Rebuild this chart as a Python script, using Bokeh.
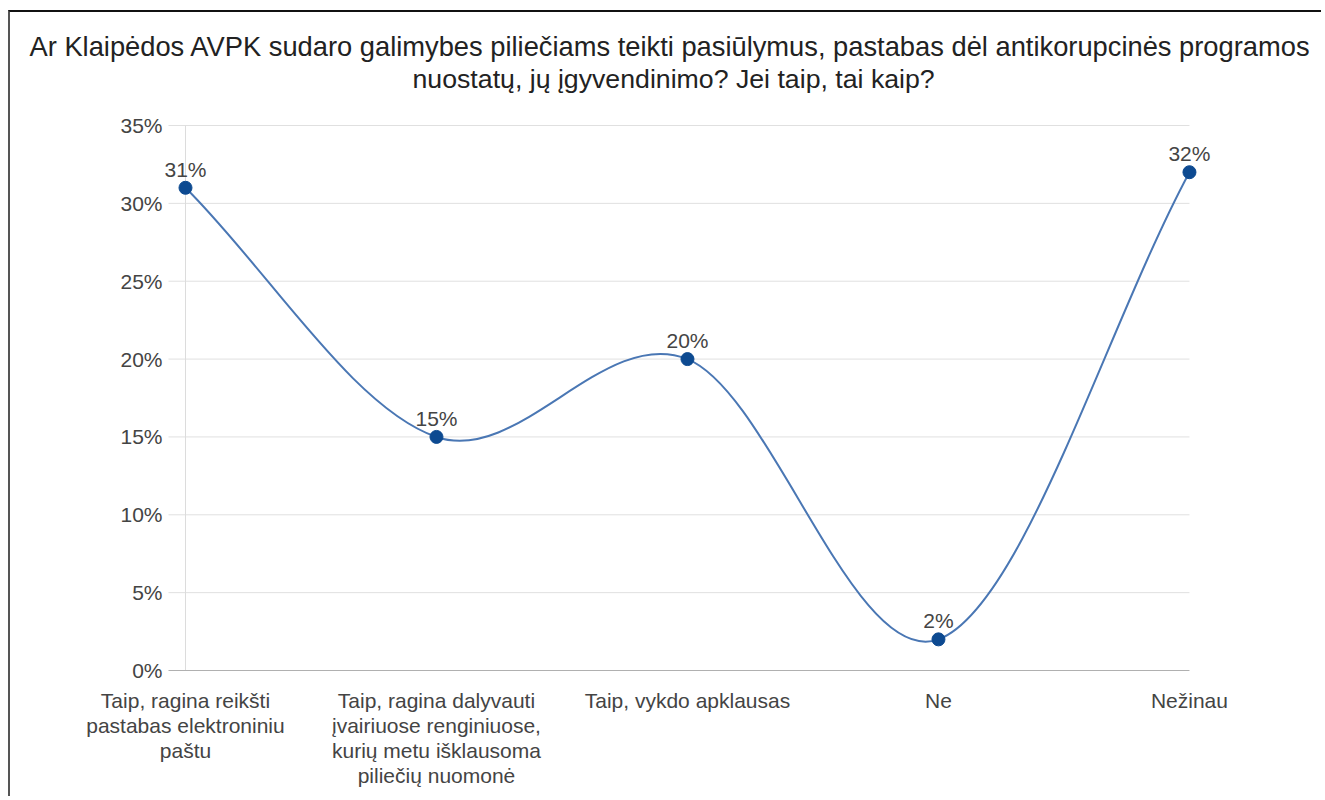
import numpy as np
from bokeh.plotting import figure
from bokeh.models import (Range1d, FixedTicker, ColumnDataSource, LabelSet,
                          PrintfTickFormatter, Title)
from bokeh.core.properties import value
from bokeh.embed import file_html
from bokeh.resources import INLINE

# ---------------- data ----------------
title_lines = [
    "Ar Klaipėdos AVPK sudaro galimybes piliečiams teikti pasiūlymus, pastabas dėl antikorupcinės programos",
    "nuostatų, jų įgyvendinimo? Jei taip, tai kaip?",
]
categories = [
    "Taip, ragina reikšti\npastabas elektroniniu\npaštu",
    "Taip, ragina dalyvauti\nįvairiuose renginiuose,\nkurių metu išklausoma\npiliečių nuomonė",
    "Taip, vykdo apklausas",
    "Ne",
    "Nežinau",
]
values = [31, 15, 20, 2, 32]
value_labels = ["31%", "15%", "20%", "2%", "32%"]
y_ticks = [0, 5, 10, 15, 20, 25, 30, 35]

FONT = "Liberation Sans"
LINE_COLOR = "#4a77b4"
DOT_COLOR = "#0d4a91"
TXT = "#444444"

xs = np.arange(len(values), dtype=float)
ys = np.array(values, dtype=float)

# smooth curve (Catmull-Rom tangents -> cubic Bezier control points)
m = np.empty_like(ys)
m[1:-1] = (ys[2:] - ys[:-2]) / 2.0
m[0] = ys[1] - ys[0]
m[-1] = ys[-1] - ys[-2]
bez = dict(
    x0=xs[:-1], y0=ys[:-1], x1=xs[1:], y1=ys[1:],
    cx0=xs[:-1] + 1 / 3, cy0=ys[:-1] + m[:-1] / 3,
    cx1=xs[1:] - 1 / 3, cy1=ys[1:] - m[1:] / 3,
)

X_LEFT = -0.0677
p = figure(width=1313, height=786, title=None,
           x_range=Range1d(-0.0876, 4.4424), y_range=Range1d(-0.642, 35.642),
           output_backend="svg", toolbar_location=None,
           min_border_left=153, min_border_right=23,
           min_border_top=103, min_border_bottom=118,
           outline_line_color=None, background_fill_color="white",
           border_fill_color="white")
p.styles = {"margin-top": "10px", "margin-left": "8px",
            "border-top": "2px solid #111111", "border-left": "2px solid #555555"}

p.xgrid.visible = False
p.ygrid.visible = False

# titles (added later = farther from the frame)
spacer = Title(text=" ", text_font_size="1px", standoff=19)
t2 = Title(text=title_lines[1], align="left", offset=249, standoff=0,
           text_font=FONT, text_font_size="26.7px", text_font_style="normal",
           text_color="#222222")
t1 = Title(text=title_lines[0], align="left", offset=-134, standoff=0,
           text_font=FONT, text_font_size="27.3px", text_font_style="normal",
           text_color="#222222")
p.add_layout(spacer, "above")
p.add_layout(t2, "above")
p.add_layout(t1, "above")

# gridlines
grid_y = [t for t in y_ticks if t != 0]
p.segment(x0=[X_LEFT] * len(grid_y), y0=grid_y, x1=[xs[-1]] * len(grid_y), y1=grid_y,
          line_color="#e0e0e0", line_width=1)
p.segment(x0=[xs[0]], y0=[y_ticks[0]], x1=[xs[0]], y1=[y_ticks[-1]],
          line_color="#dcdcdc", line_width=1)
p.segment(x0=[X_LEFT], y0=[y_ticks[0]], x1=[xs[-1]], y1=[y_ticks[0]],
          line_color="#b0b0b0", line_width=1)

# curve and points
p.bezier(line_color=LINE_COLOR, line_width=2, **bez)
src = ColumnDataSource(dict(x=xs, y=ys, label=value_labels))
p.scatter("x", "y", source=src, size=13, fill_color=DOT_COLOR, line_color=DOT_COLOR)
p.add_layout(LabelSet(x="x", y="y", text="label", source=src, y_offset=7,
                      text_align="center", text_baseline="bottom",
                      text_font=value(FONT), text_font_size="21px", text_color=TXT))

# axes
p.yaxis.ticker = FixedTicker(ticks=y_ticks)
p.yaxis.formatter = PrintfTickFormatter(format="%d%%")
p.yaxis.axis_line_color = None
p.yaxis.major_tick_line_color = None
p.yaxis.major_tick_out = 0
p.yaxis.major_tick_in = 0
p.yaxis.minor_tick_line_color = None
p.yaxis.major_label_standoff = 1
p.yaxis.major_label_text_font = FONT
p.yaxis.major_label_text_font_size = "21px"
p.yaxis.major_label_text_color = TXT

p.xaxis.ticker = FixedTicker(ticks=list(xs))
p.xaxis.major_label_overrides = {i: c for i, c in enumerate(categories)}
p.xaxis.axis_line_color = None
p.xaxis.major_tick_line_color = None
p.xaxis.major_tick_out = 0
p.xaxis.major_tick_in = 0
p.xaxis.minor_tick_line_color = None
p.xaxis.major_label_standoff = 8
p.xaxis.major_label_text_font = FONT
p.xaxis.major_label_text_font_size = "21px"
p.xaxis.major_label_text_line_height = 1.1
p.xaxis.major_label_text_color = TXT

open("out.html", "w").write(file_html(p, INLINE))
